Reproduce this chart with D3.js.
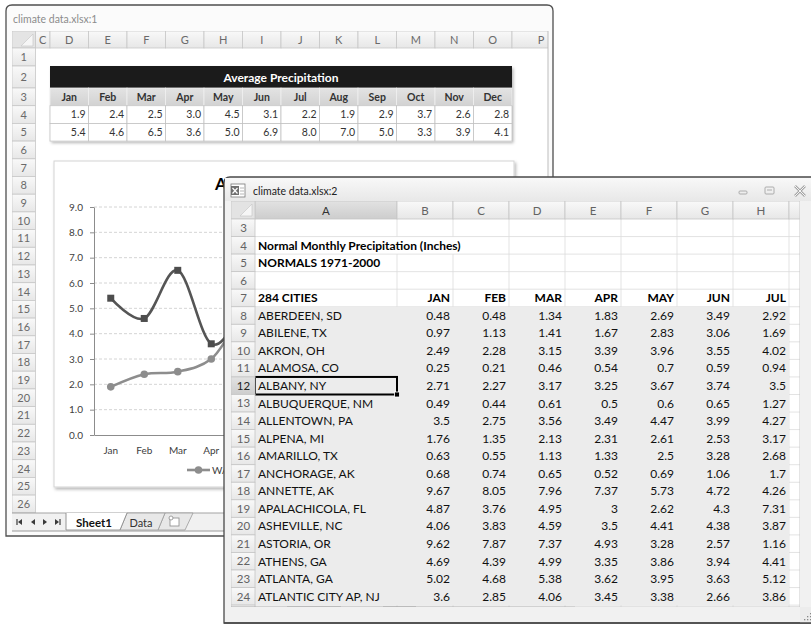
<!DOCTYPE html>
<html><head><meta charset="utf-8">
<script src="https://cdn.jsdelivr.net/npm/d3@7/dist/d3.min.js"></script>
<style>
html,body{margin:0;padding:0;background:#fff;}
svg{display:block;}
text{font-family:Lato,"Open Sans","DejaVu Sans",sans-serif;}
</style></head><body>
<svg id="chart" width="811" height="624"></svg>
<script>
// ---------------- DATA ----------------
const months = ["Jan","Feb","Mar","Apr","May","Jun","Jul","Aug","Sep","Oct","Nov","Dec"];
const avgPrecipA = [1.9,2.4,2.5,3.0,4.5,3.1,2.2,1.9,2.9,3.7,2.6,2.8];
const avgPrecipB = [5.4,4.6,6.5,3.6,5.0,6.9,8.0,7.0,5.0,3.3,3.9,4.1];
const tableTitle = "Average Precipitation";
const chartTitle = "Average Precipitation";
const seriesNames = ["WASHINGTON, DC","SEATTLE, WA"];
const yTickValues = [0,1,2,3,4,5,6,7,8,9];
const windowTitles = ["climate data.xlsx:1","climate data.xlsx:2"];
const sheet1Columns = ["C","D","E","F","G","H","I","J","K","L","M","N","O","P"];
const sheet1Rows = [1,2,3,4,5,6,7,8,9,10,11,12,13,14,15,16,17,18,19,20,21,22,23,24,25,26];
const sheet2Columns = ["A","B","C","D","E","F","G","H","I"];
const sheet2Rows = [3,4,5,6,7,8,9,10,11,12,13,14,15,16,17,18,19,20,21,22,23,24,25];
const sheetTabs = ["Sheet1","Data"];
const sheetTitle = "Normal Monthly Precipitation (Inches)";
const sheetSubtitle = "NORMALS 1971-2000";
const citiesHeader = "284 CITIES";
const dataMonths = ["JAN","FEB","MAR","APR","MAY","JUN","JUL"];
const cities = ["ABERDEEN, SD","ABILENE, TX","AKRON, OH","ALAMOSA, CO","ALBANY, NY","ALBUQUERQUE, NM","ALLENTOWN, PA","ALPENA, MI","AMARILLO, TX","ANCHORAGE, AK","ANNETTE, AK","APALACHICOLA, FL","ASHEVILLE, NC","ASTORIA, OR","ATHENS, GA","ATLANTA, GA","ATLANTIC CITY AP, NJ"];
const precipJan = [0.48,0.97,2.49,0.25,2.71,0.49,3.5,1.76,0.63,0.68,9.67,4.87,4.06,9.62,4.69,5.02,3.6];
const precipFeb = [0.48,1.13,2.28,0.21,2.27,0.44,2.75,1.35,0.55,0.74,8.05,3.76,3.83,7.87,4.39,4.68,2.85];
const precipMar = [1.34,1.41,3.15,0.46,3.17,0.61,3.56,2.13,1.13,0.65,7.96,4.95,4.59,7.37,4.99,5.38,4.06];
const precipApr = [1.83,1.67,3.39,0.54,3.25,0.5,3.49,2.31,1.33,0.52,7.37,3,3.5,4.93,3.35,3.62,3.45];
const precipMay = [2.69,2.83,3.96,0.7,3.67,0.6,4.47,2.61,2.5,0.69,5.73,2.62,4.41,3.28,3.86,3.95,3.38];
const precipJun = [3.49,3.06,3.55,0.59,3.74,0.65,3.99,2.53,3.28,1.06,4.72,4.3,4.38,2.57,3.94,3.63,2.66];
const precipJul = [2.92,1.69,4.02,0.94,3.5,1.27,4.27,3.17,2.68,1.7,4.26,7.31,3.87,1.16,4.41,5.12,3.86];
const selectedRow = 12;

// ---------------- SETUP ----------------
const svg = d3.select("#chart");
const defs = svg.append("defs");
function vgrad(id, stops){
  const g = defs.append("linearGradient").attr("id",id).attr("x1",0).attr("y1",0).attr("x2",0).attr("y2",1);
  stops.forEach(([o,c]) => g.append("stop").attr("offset",o).attr("stop-color",c));
}
vgrad("hdr",[[0,"#f9f9f9"],[1,"#e7e7e7"]]);
vgrad("hdrSel",[[0,"#e2e2e2"],[1,"#cdcdcd"]]);
vgrad("title2",[[0,"#f8f8f8"],[1,"#e8e8e8"]]);
vgrad("tblHdr",[[0,"#e3e3e3"],[1,"#d2d2d2"]]);
const shf = defs.append("filter").attr("id","shadow").attr("x","-5%").attr("y","-5%").attr("width","115%").attr("height","120%");
shf.append("feDropShadow").attr("dx",1.5).attr("dy",2).attr("stdDeviation",1.6).attr("flood-color","#000").attr("flood-opacity",0.28);
defs.append("clipPath").attr("id","clip1").append("rect").attr("x",12).attr("y",31).attr("width",536).attr("height",500);
defs.append("clipPath").attr("id","clip2").append("rect").attr("x",231).attr("y",201).attr("width",569).attr("height",406);

function navArrows(g, xs, cy){
  const c = "#3a3a3a";
  g.append("line").attr("x1",xs[0]-3).attr("x2",xs[0]-3).attr("y1",cy-3).attr("y2",cy+3).attr("stroke",c).attr("stroke-width",1.2);
  g.append("path").attr("d",`M${xs[0]+2},${cy-3} L${xs[0]-2},${cy} L${xs[0]+2},${cy+3} Z`).attr("fill",c);
  g.append("path").attr("d",`M${xs[1]+2},${cy-3} L${xs[1]-2},${cy} L${xs[1]+2},${cy+3} Z`).attr("fill",c);
  g.append("path").attr("d",`M${xs[2]-2},${cy-3} L${xs[2]+2},${cy} L${xs[2]-2},${cy+3} Z`).attr("fill",c);
  g.append("path").attr("d",`M${xs[3]-2},${cy-3} L${xs[3]+2},${cy} L${xs[3]-2},${cy+3} Z`).attr("fill",c);
  g.append("line").attr("x1",xs[3]+3).attr("x2",xs[3]+3).attr("y1",cy-3).attr("y2",cy+3).attr("stroke",c).attr("stroke-width",1.2);
}
function newSheetIcon(g, cx, cy){
  g.append("rect").attr("x",cx-5).attr("y",cy-4).attr("width",9).attr("height",8).attr("fill","#fff").attr("stroke","#8a8a8a").attr("stroke-width",0.8);
  g.append("circle").attr("cx",cx-4).attr("cy",cy-4).attr("r",2).attr("fill","#fff").attr("stroke","#8a8a8a").attr("stroke-width",0.8);
}

// ================= WINDOW 1 =================
const g1 = svg.append("g");
g1.append("path").attr("d","M6,536 V11 Q6,5 12,5 H547 Q553,5 553,11 V536 Z")
  .attr("fill","#fbfbfb").attr("stroke","#4f4f4f").attr("stroke-width",1.3);
g1.append("text").attr("x",13).attr("y",23).attr("font-size",10.5).attr("fill","#8c8c8c").text(windowTitles[0]);

const c1 = g1.append("g").attr("clip-path","url(#clip1)");
const colWidth1 = {C:14.5, P:64};
const col1 = {}; { let acc = 35.5; sheet1Columns.forEach(c => { const w = colWidth1[c] || 38.5; col1[c] = {x:acc, w}; acc += w; }); }
const rowScale1 = d3.scaleLinear().domain([3,4]).range([88,105.7]);
const rowTop1 = n => n === 1 ? 48 : n === 2 ? 66 : rowScale1(n);
const rowH1 = n => n === 1 ? 18 : n === 2 ? 22 : 17.7;

c1.append("rect").attr("x",35.5).attr("y",48).attr("width",513).attr("height",465).attr("fill","#fff");
sheet1Columns.forEach(c => {
  c1.append("rect").attr("x",col1[c].x).attr("y",31).attr("width",col1[c].w).attr("height",17)
    .attr("fill","url(#hdr)").attr("stroke","#c7c7c7").attr("stroke-width",0.8);
  c1.append("text").attr("x",Math.min(col1[c].x + col1[c].w/2, 541)).attr("y",43.5).attr("text-anchor","middle")
    .attr("font-size",11).attr("fill","#6a6a6a").text(c);
});
c1.append("rect").attr("x",12).attr("y",31).attr("width",23.5).attr("height",17).attr("fill","#e4e4e4").attr("stroke","#c7c7c7").attr("stroke-width",0.8);
c1.append("path").attr("d","M33,34 V46 H21 Z").attr("fill","#f6f6f6").attr("stroke","#c4c4c4").attr("stroke-width",0.6);
sheet1Rows.forEach(n => {
  c1.append("rect").attr("x",12).attr("y",rowTop1(n)).attr("width",23.5).attr("height",rowH1(n))
    .attr("fill","url(#hdr)").attr("stroke","#c7c7c7").attr("stroke-width",0.8);
  c1.append("text").attr("x",23.7).attr("y",rowTop1(n)+rowH1(n)/2+4).attr("text-anchor","middle")
    .attr("font-size",11).attr("fill","#6a6a6a").text(n);
});

// ---- table ----
const tableX = d3.scaleBand().domain(months).range([col1.D.x, col1.O.x + col1.O.w]);
const tbl = c1.append("g");
const tblL = tableX.range()[0], tblR = tableX.range()[1];
tbl.append("rect").attr("x",tblL).attr("y",rowTop1(2)).attr("width",tblR-tblL).attr("height",rowTop1(6)-rowTop1(2))
  .attr("fill","#fff").attr("filter","url(#shadow)");
tbl.append("rect").attr("x",tblL).attr("y",rowTop1(2)).attr("width",tblR-tblL).attr("height",rowH1(2)).attr("fill","#1b1b1b");
tbl.append("text").attr("x",(tblL+tblR)/2).attr("y",rowTop1(2)+15.5).attr("text-anchor","middle")
  .attr("font-size",12).attr("font-weight","bold").attr("fill","#fff").text(tableTitle);
months.forEach(m => {
  tbl.append("rect").attr("x",tableX(m)).attr("y",rowTop1(3)).attr("width",tableX.bandwidth()).attr("height",rowH1(3))
    .attr("fill","url(#tblHdr)").attr("stroke","#efefef").attr("stroke-width",0.8);
  tbl.append("text").attr("x",tableX(m)+tableX.bandwidth()/2).attr("y",rowTop1(3)+12.5).attr("text-anchor","middle")
    .attr("font-size",10.5).attr("font-weight","bold").attr("fill","#333").text(m);
});
[avgPrecipA, avgPrecipB].forEach((vals, r) => {
  const rt = rowTop1(4+r);
  vals.forEach((v,i) => {
    tbl.append("rect").attr("x",tableX(months[i])).attr("y",rt).attr("width",tableX.bandwidth()).attr("height",rowH1(4))
      .attr("fill","#fff").attr("stroke","#c2c2c2").attr("stroke-width",0.8);
    tbl.append("text").attr("x",tableX(months[i])+tableX.bandwidth()-3).attr("y",rt+12.5).attr("text-anchor","end")
      .attr("font-size",10.5).attr("fill","#333").text(d3.format(".1f")(v));
  });
});

// ---- chart ----
const ch = c1.append("g");
ch.append("rect").attr("x",54).attr("y",161).attr("width",460).attr("height",326)
  .attr("fill","#fff").attr("stroke","#d3d3d3").attr("stroke-width",1).attr("filter","url(#shadow)");
ch.append("text").attr("x",215).attr("y",190).attr("font-size",17).attr("font-weight","bold").attr("fill","#000").text(chartTitle);
const x = d3.scaleBand().domain(months).range([94,496]);
const y = d3.scaleLinear().domain([0,9]).range([435,207]);
const cx = m => x(m) + x.bandwidth()/2;
ch.append("g").selectAll("line").data(yTickValues.filter(v => v > 0)).join("line")
  .attr("x1",94).attr("x2",496).attr("y1",d=>y(d)).attr("y2",d=>y(d))
  .attr("stroke","#c9c9c9").attr("stroke-width",0.8).attr("stroke-dasharray","3,2");
const yAx = ch.append("g").attr("transform","translate(94,0)")
  .call(d3.axisLeft(y).tickValues(yTickValues).tickFormat(d3.format(".1f")).tickSize(4).tickSizeOuter(0).tickPadding(7));
yAx.select(".domain").attr("stroke","#8c8c8c");
yAx.selectAll(".tick line").attr("stroke","#8c8c8c");
yAx.selectAll("text").attr("font-size",10).attr("fill","#404040").style("font-family","Lato, 'Open Sans', sans-serif");
const xAx = ch.append("g").attr("transform","translate(0,435)")
  .call(d3.axisBottom(x).tickSize(0).tickSizeOuter(0).tickPadding(12));
xAx.select(".domain").attr("stroke","#8c8c8c");
xAx.selectAll("text").attr("font-size",10).attr("fill","#404040").style("font-family","Lato, 'Open Sans', sans-serif");

const line = d3.line().x((d,i)=>cx(months[i])).y(d=>y(d)).curve(d3.curveCardinal.tension(0));
const colA = "#8d8d8d", colB = "#555555";
ch.append("path").datum(avgPrecipA).attr("d",line).attr("fill","none").attr("stroke",colA).attr("stroke-width",2.6);
ch.append("g").selectAll("circle").data(avgPrecipA).join("circle")
  .attr("cx",(d,i)=>cx(months[i])).attr("cy",d=>y(d)).attr("r",3.8).attr("fill",colA);
ch.append("path").datum(avgPrecipB).attr("d",line).attr("fill","none").attr("stroke",colB).attr("stroke-width",2.6);
ch.append("g").selectAll("rect").data(avgPrecipB).join("rect")
  .attr("x",(d,i)=>cx(months[i])-3.5).attr("y",d=>y(d)-3.5).attr("width",7).attr("height",7).attr("fill","#4d4d4d");
const lg = ch.append("g");
lg.append("line").attr("x1",187).attr("x2",210).attr("y1",470).attr("y2",470).attr("stroke",colA).attr("stroke-width",2.6);
lg.append("circle").attr("cx",198.5).attr("cy",470).attr("r",3.8).attr("fill",colA);
const lt1 = lg.append("text").attr("x",212).attr("y",474).attr("font-size",10).attr("fill","#404040").text(seriesNames[0]);
const l2x = 212 + lt1.node().getComputedTextLength() + 14;
lg.append("line").attr("x1",l2x).attr("x2",l2x+23).attr("y1",470).attr("y2",470).attr("stroke",colB).attr("stroke-width",2.6);
lg.append("rect").attr("x",l2x+8).attr("y",466.5).attr("width",7).attr("height",7).attr("fill","#4d4d4d");
lg.append("text").attr("x",l2x+25).attr("y",474).attr("font-size",10).attr("fill","#404040").text(seriesNames[1]);

// ---- tab bar window 1 ----
const tb1 = c1.append("g");
tb1.append("rect").attr("x",12).attr("y",513).attr("width",536).attr("height",18).attr("fill","#f1f1f1");
tb1.append("line").attr("x1",12).attr("x2",548).attr("y1",513).attr("y2",513).attr("stroke","#a3a3a3");
navArrows(tb1,[20,33,45,57],522);
tb1.append("path").attr("d","M158,530 L165,513 H193 L185,530 Z").attr("fill","#e8e8e8").attr("stroke","#9a9a9a").attr("stroke-width",0.8);
newSheetIcon(tb1,175,522);
tb1.append("path").attr("d","M120,530 L127,513 H165 L158,530 Z").attr("fill","#e8e8e8").attr("stroke","#9a9a9a").attr("stroke-width",0.8);
tb1.append("text").attr("x",141).attr("y",526.5).attr("text-anchor","middle").attr("font-size",11).attr("fill","#333").text(sheetTabs[1]);
tb1.append("path").attr("d","M66,513 V530 H120 L127,513").attr("fill","#fff").attr("stroke","#8a8a8a").attr("stroke-width",0.9);
tb1.append("text").attr("x",94).attr("y",526.5).attr("text-anchor","middle").attr("font-size",11.5).attr("font-weight","bold").attr("fill","#111").text(sheetTabs[0]);
g1.append("line").attr("x1",548).attr("x2",548).attr("y1",31).attr("y2",531).attr("stroke","#bdbdbd");
g1.append("line").attr("x1",12).attr("x2",548).attr("y1",531).attr("y2",531).attr("stroke","#9a9a9a");

// ================= WINDOW 2 =================
const g2 = svg.append("g");
g2.append("path").attr("d","M224,623 V183 Q224,177 230,177 H813 V623 Z")
  .attr("fill","#f1f1f1").attr("stroke","#4a4a4a").attr("stroke-width",1.3);
g2.append("rect").attr("x",225).attr("y",178).attr("width",587).attr("height",23).attr("fill","url(#title2)");
// workbook icon
g2.append("rect").attr("x",231).attr("y",184).attr("width",14).attr("height",13).attr("fill","#fff").attr("stroke","#7a7a7a").attr("stroke-width",0.8);
g2.append("rect").attr("x",231).attr("y",186).attr("width",8).attr("height",9).attr("fill","#6f6f6f");
g2.append("path").attr("d","M232.5,188 L237.5,193.5 M237.5,188 L232.5,193.5").attr("stroke","#fff").attr("stroke-width",1.2);
[188,191,194].forEach(v => g2.append("line").attr("x1",240).attr("x2",244).attr("y1",v).attr("y2",v).attr("stroke","#9a9a9a").attr("stroke-width",0.7));
g2.append("text").attr("x",253).attr("y",195).attr("font-size",10.5).attr("fill","#222").text(windowTitles[1]);
// controls
g2.append("rect").attr("x",739).attr("y",191).attr("width",8).attr("height",3).attr("rx",1).attr("fill","none").attr("stroke","#a5a5a5").attr("stroke-width",0.9);
g2.append("rect").attr("x",765).attr("y",187).attr("width",9).attr("height",7).attr("rx",1).attr("fill","none").attr("stroke","#a5a5a5").attr("stroke-width",0.9);
g2.append("line").attr("x1",767).attr("x2",772).attr("y1",190).attr("y2",190).attr("stroke","#a5a5a5").attr("stroke-width",0.9);
g2.append("path").attr("d","M795,186 L805,196 M805,186 L795,196").attr("stroke","#a5a5a5").attr("stroke-width",2.6).attr("fill","none");
g2.append("path").attr("d","M795,186 L805,196 M805,186 L795,196").attr("stroke","#f3f3f3").attr("stroke-width",1).attr("fill","none");

const c2 = g2.append("g").attr("clip-path","url(#clip2)");
const colX2 = d3.scaleBand().domain(sheet2Columns.slice(1)).range([397, 397 + 8*56]);
const col2 = c => c === "A" ? {x:255, w:142} : {x:colX2(c), w:colX2.bandwidth()};
const rowY2 = d3.scaleBand().domain(sheet2Rows).range([219, 219 + 23*17.55]);
const rh2 = rowY2.bandwidth();

c2.append("rect").attr("x",255).attr("y",219).attr("width",545).attr("height",388).attr("fill","#fff");
sheet2Rows.forEach(n => {
  const t = rowY2(n);
  c2.append("line").attr("x1",255).attr("x2",800).attr("y1",t+rh2).attr("y2",t+rh2).attr("stroke","#dcdcdc").attr("stroke-width",0.8);
  sheet2Columns.forEach(c => {
    const xr = col2(c).x + col2(c).w;
    const hidden = n === 4 && (c === "A" || c === "B");
    if (!hidden) c2.append("line").attr("x1",xr).attr("x2",xr).attr("y1",t).attr("y2",t+rh2).attr("stroke","#dcdcdc").attr("stroke-width",0.8);
  });
});
c2.append("rect").attr("x",255).attr("y",rowY2(8)).attr("width",col2("H").x + col2("H").w - 255)
  .attr("height",rowY2(24) + rh2 - rowY2(8)).attr("fill","#ececec");
const fs2 = 12;
c2.append("text").attr("x",258).attr("y",rowY2(4)+rh2/2+4.3).attr("font-size",fs2).attr("font-weight","bold").attr("fill","#000").text(sheetTitle);
c2.append("text").attr("x",258).attr("y",rowY2(5)+rh2/2+4.3).attr("font-size",fs2).attr("font-weight","bold").attr("fill","#000").text(sheetSubtitle);
c2.append("text").attr("x",258).attr("y",rowY2(7)+rh2/2+4.3).attr("font-size",fs2).attr("font-weight","bold").attr("fill","#000").text(citiesHeader);
dataMonths.forEach((m,i) => {
  const cc = col2(sheet2Columns[i+1]);
  c2.append("text").attr("x",cc.x+cc.w-3).attr("y",rowY2(7)+rh2/2+4.3).attr("text-anchor","end")
    .attr("font-size",fs2).attr("font-weight","bold").attr("fill","#000").text(m);
});
const monthSeries = [precipJan, precipFeb, precipMar, precipApr, precipMay, precipJun, precipJul];
cities.forEach((city,j) => {
  const n = 8 + j, yy = rowY2(n) + rh2/2 + 4.3;
  c2.append("text").attr("x",258).attr("y",yy).attr("font-size",fs2).attr("fill","#111").text(city);
  monthSeries.forEach((vals,i) => {
    const cc = col2(sheet2Columns[i+1]);
    c2.append("text").attr("x",cc.x+cc.w-3).attr("y",yy).attr("text-anchor","end").attr("font-size",fs2).attr("fill","#111").text(String(vals[j]));
  });
});
c2.append("rect").attr("x",255).attr("y",rowY2(selectedRow)).attr("width",142).attr("height",rh2)
  .attr("fill","none").attr("stroke","#000").attr("stroke-width",2);
c2.append("rect").attr("x",394.5).attr("y",rowY2(selectedRow)+rh2-2.5).attr("width",5).attr("height",5).attr("fill","#000").attr("stroke","#fff").attr("stroke-width",0.8);
// column headers (the I header is only a sliver: no visible label)
sheet2Columns.forEach(c => {
  const cc = col2(c);
  c2.append("rect").attr("x",cc.x).attr("y",201).attr("width",cc.w).attr("height",18)
    .attr("fill", c === "A" ? "url(#hdrSel)" : "url(#hdr)").attr("stroke","#c5c5c5").attr("stroke-width",0.8);
  if (cc.x + cc.w <= 800)
    c2.append("text").attr("x",cc.x+cc.w/2).attr("y",214.5).attr("text-anchor","middle").attr("font-size",11.5)
      .attr("fill", c === "A" ? "#333" : "#636363").text(c);
});
c2.append("rect").attr("x",231).attr("y",201).attr("width",24).attr("height",18).attr("fill","#e3e3e3").attr("stroke","#c5c5c5").attr("stroke-width",0.8);
c2.append("path").attr("d","M252,204 V216 H240 Z").attr("fill","#f6f6f6").attr("stroke","#c4c4c4").attr("stroke-width",0.6);
sheet2Rows.forEach(n => {
  const sel = n === selectedRow;
  c2.append("rect").attr("x",231).attr("y",rowY2(n)).attr("width",24).attr("height",rh2)
    .attr("fill", sel ? "url(#hdrSel)" : "url(#hdr)").attr("stroke","#c5c5c5").attr("stroke-width",0.8);
  if (rowY2(n) + rh2 <= 607)
    c2.append("text").attr("x",243.5).attr("y",rowY2(n)+rh2/2+4.2).attr("text-anchor","middle").attr("font-size",11.5)
      .attr("fill", sel ? "#222" : "#636363").text(n);
});
// vertical scrollbar
const vs = c2.append("g");
vs.append("rect").attr("x",800).attr("y",201).attr("width",11).attr("height",406).attr("fill","#ebebeb");
vs.append("line").attr("x1",800).attr("x2",800).attr("y1",201).attr("y2",607).attr("stroke","#c8c8c8");
vs.append("rect").attr("x",801.5).attr("y",202).attr("width",8).attr("height",5).attr("fill","#f7f7f7").attr("stroke","#9a9a9a").attr("stroke-width",0.7);
vs.append("path").attr("d","M802,219 L809,219 L805.5,214 Z").attr("fill","#222");
vs.append("rect").attr("x",801).attr("y",223).attr("width",9).attr("height",17).attr("rx",1).attr("fill","#fafafa").attr("stroke","#9a9a9a").attr("stroke-width",0.8);
[228.5,231.5,234.5].forEach(v => vs.append("line").attr("x1",803).attr("x2",808).attr("y1",v).attr("y2",v).attr("stroke","#888").attr("stroke-width",0.8));
vs.append("path").attr("d","M802,598 L809,598 L805.5,603 Z").attr("fill","#555");
// tab bar window 2
const tb2 = c2.append("g");
tb2.append("rect").attr("x",231).attr("y",607).attr("width",344).attr("height",16).attr("fill","#f1f1f1");
tb2.append("line").attr("x1",231).attr("x2",575).attr("y1",607).attr("y2",607).attr("stroke","#a3a3a3");
navArrows(tb2,[238,252,266,280],615);
tb2.append("path").attr("d","M377,622 L383,607 H416 L408,622 Z").attr("fill","#e8e8e8").attr("stroke","#9a9a9a").attr("stroke-width",0.8);
newSheetIcon(tb2,396,615);
tb2.append("path").attr("d","M287,607 V622 H335 L341,607 Z").attr("fill","#e8e8e8").attr("stroke","#9a9a9a").attr("stroke-width",0.8);
tb2.append("text").attr("x",313).attr("y",619).attr("text-anchor","middle").attr("font-size",11).attr("fill","#333").text(sheetTabs[0]);
tb2.append("path").attr("d","M335,607 V622 H377 L383,607").attr("fill","#fff").attr("stroke","#8a8a8a").attr("stroke-width",0.9);
tb2.append("text").attr("x",358).attr("y",619).attr("text-anchor","middle").attr("font-size",11.5).attr("font-weight","bold").attr("fill","#111").text(sheetTabs[1]);
// horizontal scrollbar
const hs = c2.append("g");
hs.append("rect").attr("x",575).attr("y",607).attr("width",225).attr("height",16).attr("fill","#ececec");
hs.append("line").attr("x1",575).attr("x2",811).attr("y1",607).attr("y2",607).attr("stroke","#c4c4c4");
hs.append("rect").attr("x",575).attr("y",609).attr("width",4).attr("height",12).attr("fill","#f7f7f7").attr("stroke","#8a8a8a").attr("stroke-width",0.7);
hs.append("path").attr("d","M588,611.5 L588,618.5 L584,615 Z").attr("fill","#222");
hs.append("rect").attr("x",595).attr("y",609).attr("width",125).attr("height",12).attr("rx",2).attr("fill","#fbfbfb").attr("stroke","#a5a5a5").attr("stroke-width",0.8);
[655,657.5,660].forEach(v => hs.append("line").attr("x1",v).attr("x2",v).attr("y1",612).attr("y2",618).attr("stroke","#999").attr("stroke-width",0.7));
hs.append("path").attr("d","M783,611.5 L783,618.5 L787,615 Z").attr("fill","#222");
hs.append("rect").attr("x",794).attr("y",609).attr("width",4).attr("height",12).attr("fill","#f7f7f7").attr("stroke","#8a8a8a").attr("stroke-width",0.7);
g2.append("rect").attr("x",800).attr("y",607).attr("width",11).attr("height",16).attr("fill","#ececec");
[[804,619],[807,619],[807,616],[810,619],[810,616],[810,613]].forEach(([a,b]) => g2.append("rect").attr("x",a).attr("y",b).attr("width",1.3).attr("height",1.3).attr("fill","#888"));
g2.append("line").attr("x1",224).attr("x2",811).attr("y1",623).attr("y2",623).attr("stroke","#4a4a4a").attr("stroke-width",1.3);
</script>
</body></html>
